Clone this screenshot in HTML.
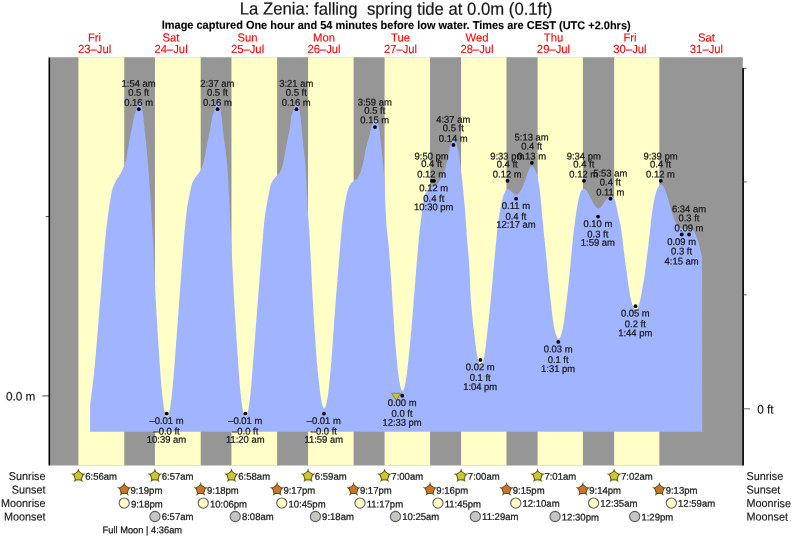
<!DOCTYPE html>
<html lang="en"><head><meta charset="utf-8"><title>La Zenia tide chart</title>
<style>
html,body{margin:0;padding:0;background:#fff;}
body{width:793px;height:539px;overflow:hidden;}
svg{display:block;font-family:"Liberation Sans",Arial,Helvetica,sans-serif;}
text{white-space:pre;}
</style></head><body>
<svg width="793" height="539" viewBox="0 0 793 539">
<rect width="793" height="539" fill="#fff"/>
<text transform="translate(396.10,14.70) rotate(0.05) scale(0.9595,1)" font-size="17.4" text-anchor="middle" fill="#181818" stroke="#181818" stroke-width="0.2">La Zenia: falling  spring tide at 0.0m (0.1ft)</text>
<text transform="translate(396.20,29.00) rotate(0.05) scale(0.9545,1)" font-size="11.5" text-anchor="middle" font-weight="bold" fill="#000" stroke="#000" stroke-width="0.1">Image captured One hour and 54 minutes before low water. Times are CEST (UTC +2.0hrs)</text>
<text transform="translate(94.54,41.45) rotate(0.05) scale(0.965,1)" font-size="11.7" text-anchor="middle" fill="#ff0000" stroke="#ff0000" stroke-width="0.1">Fri</text>
<text transform="translate(94.54,53.10) rotate(0.05) scale(0.965,1)" font-size="11.7" text-anchor="middle" fill="#ff0000" stroke="#ff0000" stroke-width="0.1">23–Jul</text>
<text transform="translate(171.03,41.45) rotate(0.05) scale(0.965,1)" font-size="11.7" text-anchor="middle" fill="#ff0000" stroke="#ff0000" stroke-width="0.1">Sat</text>
<text transform="translate(171.03,53.10) rotate(0.05) scale(0.965,1)" font-size="11.7" text-anchor="middle" fill="#ff0000" stroke="#ff0000" stroke-width="0.1">24–Jul</text>
<text transform="translate(247.52,41.45) rotate(0.05) scale(0.965,1)" font-size="11.7" text-anchor="middle" fill="#ff0000" stroke="#ff0000" stroke-width="0.1">Sun</text>
<text transform="translate(247.52,53.10) rotate(0.05) scale(0.965,1)" font-size="11.7" text-anchor="middle" fill="#ff0000" stroke="#ff0000" stroke-width="0.1">25–Jul</text>
<text transform="translate(324.01,41.45) rotate(0.05) scale(0.965,1)" font-size="11.7" text-anchor="middle" fill="#ff0000" stroke="#ff0000" stroke-width="0.1">Mon</text>
<text transform="translate(324.01,53.10) rotate(0.05) scale(0.965,1)" font-size="11.7" text-anchor="middle" fill="#ff0000" stroke="#ff0000" stroke-width="0.1">26–Jul</text>
<text transform="translate(400.50,41.45) rotate(0.05) scale(0.965,1)" font-size="11.7" text-anchor="middle" fill="#ff0000" stroke="#ff0000" stroke-width="0.1">Tue</text>
<text transform="translate(400.50,53.10) rotate(0.05) scale(0.965,1)" font-size="11.7" text-anchor="middle" fill="#ff0000" stroke="#ff0000" stroke-width="0.1">27–Jul</text>
<text transform="translate(477.00,41.45) rotate(0.05) scale(0.965,1)" font-size="11.7" text-anchor="middle" fill="#ff0000" stroke="#ff0000" stroke-width="0.1">Wed</text>
<text transform="translate(477.00,53.10) rotate(0.05) scale(0.965,1)" font-size="11.7" text-anchor="middle" fill="#ff0000" stroke="#ff0000" stroke-width="0.1">28–Jul</text>
<text transform="translate(553.48,41.45) rotate(0.05) scale(0.965,1)" font-size="11.7" text-anchor="middle" fill="#ff0000" stroke="#ff0000" stroke-width="0.1">Thu</text>
<text transform="translate(553.48,53.10) rotate(0.05) scale(0.965,1)" font-size="11.7" text-anchor="middle" fill="#ff0000" stroke="#ff0000" stroke-width="0.1">29–Jul</text>
<text transform="translate(629.97,41.45) rotate(0.05) scale(0.965,1)" font-size="11.7" text-anchor="middle" fill="#ff0000" stroke="#ff0000" stroke-width="0.1">Fri</text>
<text transform="translate(629.97,53.10) rotate(0.05) scale(0.965,1)" font-size="11.7" text-anchor="middle" fill="#ff0000" stroke="#ff0000" stroke-width="0.1">30–Jul</text>
<text transform="translate(706.46,41.45) rotate(0.05) scale(0.965,1)" font-size="11.7" text-anchor="middle" fill="#ff0000" stroke="#ff0000" stroke-width="0.1">Sat</text>
<text transform="translate(706.46,53.10) rotate(0.05) scale(0.965,1)" font-size="11.7" text-anchor="middle" fill="#ff0000" stroke="#ff0000" stroke-width="0.1">31–Jul</text>
<rect x="50.2" y="57.25" width="692.6" height="408.25" fill="#969696"/>
<rect x="78.40" y="57.25" width="45.84" height="408.25" fill="#ffffc8"/>
<rect x="154.94" y="57.25" width="45.73" height="408.25" fill="#ffffc8"/>
<rect x="231.48" y="57.25" width="45.63" height="408.25" fill="#ffffc8"/>
<rect x="308.03" y="57.25" width="45.58" height="408.25" fill="#ffffc8"/>
<rect x="384.57" y="57.25" width="45.47" height="408.25" fill="#ffffc8"/>
<rect x="461.06" y="57.25" width="45.42" height="408.25" fill="#ffffc8"/>
<rect x="537.60" y="57.25" width="45.31" height="408.25" fill="#ffffc8"/>
<rect x="614.15" y="57.25" width="45.20" height="408.25" fill="#ffffc8"/>
<path id="tide" d="M90.10 431.7L90.10 404.20L90.35 402.54L90.60 400.83L90.85 399.06L91.10 397.25L91.35 395.40L91.60 393.49L91.85 391.54L92.10 389.54L92.35 387.50L92.60 385.42L92.85 383.29L93.10 381.11L93.35 378.90L93.60 376.64L93.85 374.34L94.10 372.00L94.35 369.59L94.60 367.10L94.85 364.52L95.10 361.86L95.35 359.12L95.60 356.33L95.85 353.47L96.10 350.56L96.35 347.60L96.60 344.60L96.85 341.57L97.10 338.50L97.35 335.41L97.60 332.31L97.85 329.19L98.10 326.07L98.35 322.95L98.60 319.84L98.85 316.74L99.10 313.66L99.35 310.60L99.60 307.58L99.85 304.59L100.10 301.62L100.35 298.59L100.60 295.53L100.85 292.42L101.10 289.29L101.35 286.13L101.60 282.96L101.85 279.79L102.10 276.61L102.35 273.43L102.60 270.28L102.85 267.14L103.10 264.03L103.35 260.95L103.60 257.91L103.85 254.93L104.10 252.00L104.35 249.13L104.60 246.34L104.85 243.62L105.10 240.99L105.35 238.44L105.60 236.00L105.85 233.63L106.10 231.30L106.35 229.02L106.60 226.79L106.85 224.60L107.10 222.45L107.35 220.36L107.60 218.32L107.85 216.32L108.10 214.38L108.35 212.49L108.60 210.65L108.85 208.87L109.10 207.14L109.35 205.47L109.60 203.90L109.85 202.42L110.10 201.01L110.35 199.63L110.60 198.26L110.85 196.86L111.10 195.39L111.35 193.76L111.60 192.14L111.85 190.74L112.10 189.75L112.35 188.96L112.60 188.27L112.85 187.67L113.10 187.12L113.35 186.59L113.60 186.07L113.85 185.52L114.10 184.93L114.35 184.33L114.60 183.73L114.85 183.15L115.10 182.57L115.35 182.01L115.60 181.48L115.85 180.98L116.10 180.52L116.35 180.09L116.60 179.68L116.85 179.29L117.10 178.92L117.35 178.56L117.60 178.20L117.85 177.85L118.10 177.50L118.35 177.15L118.60 176.78L118.85 176.40L119.10 176.00L119.35 175.59L119.60 175.18L119.85 174.76L120.10 174.34L120.35 173.91L120.60 173.47L120.85 173.02L121.10 172.56L121.35 172.09L121.60 171.60L121.85 171.10L122.10 170.58L122.35 170.06L122.60 169.52L122.85 168.96L123.10 168.39L123.35 167.80L123.60 167.20L123.85 166.59L124.10 165.95L124.35 165.30L124.60 164.64L124.85 163.98L125.10 163.30L125.35 162.57L125.60 161.79L125.85 160.94L126.10 160.00L126.35 158.90L126.60 157.60L126.85 156.15L127.10 154.58L127.35 152.92L127.60 151.21L127.85 149.50L128.10 147.81L128.35 146.19L128.60 144.67L128.85 143.27L129.10 141.90L129.35 140.57L129.60 139.26L129.85 137.97L130.10 136.70L130.35 135.44L130.60 134.19L130.85 132.95L131.10 131.72L131.35 130.48L131.60 129.24L131.85 127.99L132.10 126.73L132.35 125.46L132.60 124.14L132.85 122.75L133.10 121.33L133.35 119.94L133.60 118.63L133.85 117.43L134.10 116.40L134.35 115.55L134.60 114.81L134.85 114.13L135.10 113.47L135.35 112.76L135.60 111.97L135.85 111.11L136.10 110.21L136.35 109.30L136.60 108.35L136.85 107.38L137.10 106.50L137.35 105.78L137.60 105.11L137.85 104.51L138.10 104.01L138.35 103.64L138.60 103.32L138.85 103.04L139.10 102.85L139.35 102.80L139.60 102.90L139.85 103.11L140.10 103.39L140.35 103.70L140.60 104.06L140.85 104.53L141.10 105.10L141.35 105.76L141.60 106.53L141.85 107.56L142.10 108.79L142.35 110.12L142.60 111.66L142.85 113.26L143.10 114.91L143.35 116.81L143.60 119.09L143.85 121.63L144.10 124.21L144.35 126.65L144.60 129.03L144.85 131.40L145.10 133.76L145.35 136.15L145.60 138.59L145.85 141.09L146.10 143.65L146.35 146.22L146.60 148.81L146.85 151.44L147.10 154.11L147.35 156.85L147.60 159.65L147.85 162.54L148.10 165.53L148.35 168.63L148.60 171.81L148.85 175.06L149.10 178.38L149.35 181.76L149.60 185.22L149.85 188.75L150.10 192.35L150.35 196.03L150.60 199.77L150.85 203.59L151.10 207.49L151.35 211.46L151.60 215.51L151.85 219.63L152.10 223.83L152.35 228.10L152.60 232.46L152.85 236.90L153.10 241.61L153.35 246.63L153.60 251.91L153.85 257.38L154.10 262.99L154.35 268.68L154.60 274.39L154.85 280.07L155.10 285.64L155.35 291.06L155.60 296.26L155.85 301.20L156.10 305.82L156.35 310.31L156.60 314.73L156.85 319.07L157.10 323.33L157.35 327.52L157.60 331.64L157.85 335.68L158.10 339.66L158.35 343.57L158.60 347.42L158.85 351.21L159.10 354.93L159.35 358.59L159.60 362.20L159.85 365.75L160.10 369.24L160.35 372.68L160.60 376.02L160.85 379.22L161.10 382.30L161.35 385.26L161.60 388.08L161.85 390.73L162.10 393.27L162.35 395.68L162.60 397.95L162.85 400.11L163.10 402.13L163.35 404.02L163.60 405.78L163.85 407.42L164.10 408.92L164.35 410.30L164.60 411.55L164.85 412.67L165.10 413.66L165.35 414.53L165.60 415.26L165.85 415.87L166.10 416.34L166.35 416.70L166.60 416.89L166.85 417.00L167.10 416.95L167.35 416.81L167.60 416.57L167.85 416.18L168.10 415.69L168.35 415.08L168.60 414.37L168.85 413.54L169.10 412.60L169.35 411.54L169.60 410.37L169.85 409.08L170.10 407.68L170.35 406.17L170.60 404.54L170.85 402.80L171.10 400.95L171.35 398.98L171.60 396.90L171.85 394.70L172.10 392.41L172.35 389.98L172.60 387.36L172.85 384.58L173.10 381.69L173.35 378.72L173.60 375.68L173.85 372.61L174.10 369.53L174.35 366.39L174.60 363.20L174.85 359.98L175.10 356.71L175.35 353.41L175.60 350.08L175.85 346.72L176.10 343.34L176.35 339.95L176.60 336.54L176.85 333.12L177.10 329.70L177.35 326.28L177.60 322.86L177.85 319.46L178.10 316.06L178.35 312.68L178.60 309.32L178.85 305.99L179.10 302.68L179.35 299.35L179.60 295.99L179.85 292.61L180.10 289.21L180.35 285.80L180.60 282.39L180.85 278.97L181.10 275.56L181.35 272.16L181.60 268.78L181.85 265.43L182.10 262.10L182.35 258.80L182.60 255.54L182.85 252.33L183.10 249.17L183.35 246.06L183.60 243.02L183.85 240.04L184.10 237.14L184.35 234.31L184.60 231.55L184.85 228.86L185.10 226.24L185.35 223.70L185.60 221.24L185.85 218.86L186.10 216.55L186.35 214.25L186.60 212.01L186.85 209.88L187.10 207.90L187.35 206.13L187.60 204.55L187.85 203.09L188.10 201.72L188.35 200.42L188.60 199.19L188.85 198.01L189.10 196.86L189.35 195.72L189.60 194.59L189.85 193.43L190.10 192.24L190.35 191.00L190.60 189.75L190.85 188.50L191.10 187.28L191.35 186.14L191.60 185.08L191.85 184.15L192.10 183.37L192.35 182.73L192.60 182.15L192.85 181.61L193.10 181.10L193.35 180.62L193.60 180.18L193.85 179.76L194.10 179.36L194.35 178.98L194.60 178.61L194.85 178.26L195.10 177.92L195.35 177.58L195.60 177.25L195.85 176.92L196.10 176.58L196.35 176.24L196.60 175.89L196.85 175.53L197.10 175.17L197.35 174.84L197.60 174.51L197.85 174.18L198.10 173.85L198.35 173.51L198.60 173.15L198.85 172.77L199.10 172.40L199.35 172.02L199.60 171.63L199.85 171.24L200.10 170.84L200.35 170.42L200.60 169.99L200.85 169.53L201.10 169.05L201.35 168.54L201.60 168.00L201.85 167.42L202.10 166.81L202.35 166.15L202.60 165.45L202.85 164.71L203.10 163.92L203.35 163.10L203.60 162.24L203.85 161.33L204.10 160.39L204.35 159.39L204.60 158.26L204.85 157.02L205.10 155.68L205.35 154.28L205.60 152.82L205.85 151.33L206.10 149.82L206.35 148.33L206.60 146.86L206.85 145.45L207.10 144.10L207.35 142.81L207.60 141.55L207.85 140.31L208.10 139.08L208.35 137.87L208.60 136.66L208.85 135.46L209.10 134.25L209.35 133.03L209.60 131.80L209.85 130.55L210.10 129.27L210.35 127.97L210.60 126.59L210.85 125.10L211.10 123.55L211.35 121.98L211.60 120.45L211.85 119.01L212.10 117.70L212.35 116.59L212.60 115.70L212.85 114.93L213.10 114.25L213.35 113.60L213.60 112.91L213.85 112.14L214.10 111.28L214.35 110.39L214.60 109.48L214.85 108.55L215.10 107.57L215.35 106.67L215.60 105.92L215.85 105.24L216.10 104.62L216.35 104.10L216.60 103.70L216.85 103.38L217.10 103.09L217.35 102.88L217.60 102.80L217.85 102.87L218.10 103.07L218.35 103.33L218.60 103.64L218.85 103.98L219.10 104.43L219.35 104.98L219.60 105.63L219.85 106.36L220.10 107.34L220.35 108.53L220.60 109.84L220.85 111.35L221.10 112.94L221.35 114.57L221.60 116.40L221.85 118.59L222.10 121.10L222.35 123.80L222.60 126.52L222.85 129.14L223.10 131.50L223.35 133.61L223.60 135.59L223.85 137.48L224.10 139.29L224.35 141.07L224.60 142.83L224.85 144.62L225.10 146.46L225.35 148.37L225.60 150.40L225.85 152.46L226.10 154.50L226.35 156.57L226.60 158.72L226.85 161.01L227.10 163.49L227.35 166.22L227.60 169.27L227.85 172.82L228.10 176.87L228.35 181.33L228.60 186.16L228.85 191.28L229.10 196.63L229.35 202.15L229.60 207.76L229.85 213.41L230.10 219.02L230.35 224.53L230.60 229.88L230.85 235.01L231.10 239.96L231.35 244.95L231.60 249.97L231.85 255.00L232.10 260.04L232.35 265.06L232.60 270.06L232.85 275.02L233.10 279.93L233.35 284.76L233.60 289.52L233.85 294.17L234.10 298.71L234.35 303.13L234.60 307.44L234.85 311.69L235.10 315.88L235.35 320.02L235.60 324.10L235.85 328.13L236.10 332.10L236.35 336.03L236.60 339.91L236.85 343.73L237.10 347.51L237.35 351.24L237.60 354.93L237.85 358.57L238.10 362.16L238.35 365.71L238.60 369.22L238.85 372.69L239.10 376.12L239.35 379.48L239.60 382.71L239.85 385.76L240.10 388.57L240.35 391.10L240.60 393.51L240.85 395.81L241.10 398.00L241.35 400.06L241.60 402.01L241.85 403.83L242.10 405.53L242.35 407.12L242.60 408.57L242.85 409.92L243.10 411.13L243.35 412.24L243.60 413.21L243.85 414.07L244.10 414.80L244.35 415.43L244.60 415.91L244.85 416.31L245.10 416.53L245.35 416.67L245.60 416.69L245.85 416.57L246.10 416.37L246.35 416.02L246.60 415.57L246.85 414.98L247.10 414.30L247.35 413.48L247.60 412.56L247.85 411.51L248.10 410.35L248.35 409.06L248.60 407.67L248.85 406.15L249.10 404.52L249.35 402.77L249.60 400.90L249.85 398.91L250.10 396.81L250.35 394.59L250.60 392.26L250.85 389.83L251.10 387.16L251.35 384.21L251.60 381.07L251.85 377.82L252.10 374.56L252.35 371.37L252.60 368.20L252.85 365.02L253.10 361.84L253.35 358.64L253.60 355.44L253.85 352.22L254.10 349.01L254.35 345.79L254.60 342.57L254.85 339.34L255.10 336.11L255.35 332.89L255.60 329.66L255.85 326.43L256.10 323.21L256.35 319.99L256.60 316.78L256.85 313.57L257.10 310.37L257.35 307.18L257.60 304.00L257.85 300.81L258.10 297.61L258.35 294.40L258.60 291.18L258.85 287.95L259.10 284.72L259.35 281.49L259.60 278.26L259.85 275.03L260.10 271.82L260.35 268.61L260.60 265.42L260.85 262.24L261.10 259.08L261.35 255.95L261.60 252.84L261.85 249.75L262.10 246.70L262.35 243.68L262.60 240.69L262.85 237.75L263.10 234.83L263.35 231.86L263.60 228.88L263.85 225.97L264.10 223.21L264.35 220.66L264.60 218.40L264.85 216.40L265.10 214.55L265.35 212.83L265.60 211.20L265.85 209.65L266.10 208.15L266.35 206.68L266.60 205.21L266.85 203.78L267.10 202.38L267.35 201.02L267.60 199.69L267.85 198.39L268.10 197.12L268.35 195.87L268.60 194.64L268.85 193.44L269.10 192.23L269.35 190.98L269.60 189.72L269.85 188.50L270.10 187.33L270.35 186.26L270.60 185.32L270.85 184.53L271.10 183.89L271.35 183.30L271.60 182.74L271.85 182.22L272.10 181.73L272.35 181.28L272.60 180.85L272.85 180.44L273.10 180.05L273.35 179.68L273.60 179.32L273.85 178.98L274.10 178.64L274.35 178.30L274.60 177.97L274.85 177.65L275.10 177.36L275.35 177.08L275.60 176.81L275.85 176.55L276.10 176.29L276.35 176.04L276.60 175.78L276.85 175.51L277.10 175.23L277.35 174.94L277.60 174.65L277.85 174.37L278.10 174.09L278.35 173.82L278.60 173.54L278.85 173.27L279.10 172.98L279.35 172.68L279.60 172.37L279.85 172.04L280.10 171.69L280.35 171.31L280.60 170.91L280.85 170.47L281.10 170.00L281.35 169.45L281.60 168.80L281.85 168.05L282.10 167.22L282.35 166.33L282.60 165.39L282.85 164.37L283.10 163.17L283.35 161.85L283.60 160.52L283.85 159.23L284.10 157.94L284.35 156.65L284.60 155.34L284.85 154.02L285.10 152.69L285.35 151.35L285.60 150.00L285.85 148.62L286.10 147.21L286.35 145.79L286.60 144.37L286.85 142.97L287.10 141.60L287.35 140.30L287.60 139.08L287.85 137.92L288.10 136.79L288.35 135.68L288.60 134.56L288.85 133.41L289.10 132.22L289.35 130.97L289.60 129.62L289.85 128.16L290.10 126.58L290.35 124.82L290.60 122.28L290.85 119.38L291.10 117.00L291.35 115.75L291.60 114.89L291.85 114.22L292.10 113.62L292.35 113.02L292.60 112.30L292.85 111.46L293.10 110.57L293.35 109.66L293.60 108.74L293.85 107.77L294.10 106.84L294.35 106.06L294.60 105.37L294.85 104.74L295.10 104.19L295.35 103.77L295.60 103.44L295.85 103.14L296.10 102.91L296.35 102.80L296.60 102.85L296.85 103.02L297.10 103.28L297.35 103.58L297.60 103.90L297.85 104.33L298.10 104.86L298.35 105.49L298.60 106.20L298.85 107.12L299.10 108.28L299.35 109.56L299.60 111.03L299.85 112.62L300.10 114.29L300.35 116.04L300.60 117.85L300.85 119.76L301.10 121.87L301.35 124.20L301.60 126.68L301.85 129.28L302.10 131.96L302.35 134.68L302.60 137.39L302.85 140.05L303.10 142.61L303.35 145.03L303.60 147.34L303.85 149.60L304.10 151.85L304.35 154.14L304.60 156.53L304.85 159.06L305.10 161.78L305.35 164.74L305.60 168.00L305.85 171.89L306.10 176.56L306.35 181.78L306.60 187.29L306.85 192.85L307.10 198.22L307.35 203.15L307.60 207.44L307.85 211.30L308.10 214.89L308.35 218.30L308.60 221.62L308.85 224.96L309.10 228.40L309.35 232.05L309.60 236.00L309.85 240.31L310.10 244.94L310.35 249.83L310.60 254.94L310.85 260.20L311.10 265.57L311.35 270.99L311.60 276.39L311.85 281.74L312.10 286.97L312.35 292.03L312.60 296.87L312.85 301.42L313.10 305.67L313.35 309.82L313.60 313.92L313.85 317.98L314.10 321.97L314.35 325.91L314.60 329.79L314.85 333.60L315.10 337.33L315.35 340.99L315.60 344.58L315.85 348.07L316.10 351.48L316.35 354.80L316.60 358.02L316.85 361.14L317.10 364.15L317.35 367.06L317.60 369.85L317.85 372.52L318.10 375.02L318.35 377.35L318.60 379.55L318.85 381.67L319.10 383.76L319.35 385.85L319.60 388.00L319.85 390.17L320.10 392.22L320.35 394.15L320.60 395.95L320.85 397.63L321.10 399.18L321.35 400.62L321.60 401.93L321.85 403.12L322.10 404.18L322.35 405.13L322.60 405.94L322.85 406.65L323.10 407.22L323.35 407.68L323.60 408.00L323.85 408.22L324.10 408.29L324.35 408.23L324.60 408.12L324.85 407.84L325.10 407.46L325.35 406.95L325.60 406.33L325.85 405.58L326.10 404.73L326.35 403.75L326.60 402.66L326.85 401.45L327.10 400.12L327.35 398.67L327.60 397.11L327.85 395.43L328.10 393.64L328.35 391.74L328.60 389.67L328.85 387.49L329.10 385.21L329.35 382.85L329.60 380.40L329.85 377.87L330.10 375.25L330.35 372.55L330.60 369.76L330.85 366.85L331.10 363.83L331.35 360.71L331.60 357.51L331.85 354.23L332.10 350.88L332.35 347.48L332.60 344.03L332.85 340.54L333.10 337.03L333.35 333.50L333.60 329.97L333.85 326.44L334.10 322.93L334.35 319.44L334.60 315.98L334.85 312.58L335.10 309.22L335.35 305.94L335.60 302.72L335.85 299.53L336.10 296.36L336.35 293.20L336.60 290.05L336.85 286.92L337.10 283.80L337.35 280.69L337.60 277.59L337.85 274.51L338.10 271.44L338.35 268.37L338.60 265.32L338.85 262.28L339.10 259.25L339.35 256.22L339.60 253.21L339.85 250.20L340.10 247.20L340.35 244.19L340.60 241.13L340.85 238.07L341.10 235.07L341.35 232.17L341.60 229.44L341.85 226.89L342.10 224.45L342.35 222.12L342.60 219.90L342.85 217.79L343.10 215.80L343.35 213.91L343.60 212.09L343.85 210.34L344.10 208.66L344.35 207.05L344.60 205.51L344.85 204.04L345.10 202.65L345.35 201.28L345.60 199.94L345.85 198.64L346.10 197.37L346.35 196.15L346.60 194.98L346.85 193.87L347.10 192.82L347.35 191.84L347.60 190.94L347.85 190.11L348.10 189.32L348.35 188.56L348.60 187.85L348.85 187.19L349.10 186.59L349.35 186.06L349.60 185.60L349.85 185.19L350.10 184.81L350.35 184.46L350.60 184.13L350.85 183.82L351.10 183.53L351.35 183.25L351.60 182.98L351.85 182.73L352.10 182.48L352.35 182.24L352.60 181.99L352.85 181.75L353.10 181.52L353.35 181.30L353.60 181.10L353.85 180.91L354.10 180.73L354.35 180.55L354.60 180.38L354.85 180.22L355.10 180.05L355.35 179.88L355.60 179.70L355.85 179.52L356.10 179.33L356.35 179.13L356.60 178.92L356.85 178.69L357.10 178.44L357.35 178.17L357.60 177.88L357.85 177.56L358.10 177.20L358.35 176.80L358.60 176.38L358.85 175.92L359.10 175.44L359.35 174.92L359.60 174.39L359.85 173.82L360.10 173.24L360.35 172.63L360.60 171.97L360.85 171.25L361.10 170.49L361.35 169.68L361.60 168.83L361.85 167.94L362.10 167.01L362.35 166.05L362.60 165.06L362.85 164.04L363.10 162.99L363.35 161.93L363.60 160.84L363.85 159.71L364.10 158.44L364.35 157.06L364.60 155.61L364.85 154.11L365.10 152.62L365.35 151.16L365.60 149.77L365.85 148.50L366.10 147.36L366.35 146.31L366.60 145.31L366.85 144.35L367.10 143.44L367.35 142.55L367.60 141.69L367.85 140.84L368.10 139.99L368.35 139.14L368.60 138.27L368.85 137.38L369.10 136.46L369.35 135.50L369.60 134.49L369.85 133.44L370.10 132.36L370.35 131.27L370.60 130.20L370.85 129.17L371.10 128.18L371.35 127.27L371.60 126.43L371.85 125.60L372.10 124.81L372.35 124.06L372.60 123.37L372.85 122.74L373.10 122.18L373.35 121.66L373.60 121.17L373.85 120.75L374.10 120.41L374.35 120.15L374.60 119.91L374.85 119.72L375.10 119.61L375.35 119.62L375.60 119.72L375.85 119.90L376.10 120.11L376.35 120.35L376.60 120.66L376.85 121.07L377.10 121.54L377.35 122.07L377.60 122.63L377.85 123.22L378.10 123.88L378.35 124.62L378.60 125.47L378.85 126.44L379.10 127.61L379.35 129.26L379.60 131.29L379.85 133.50L380.10 135.70L380.35 137.88L380.60 140.17L380.85 142.53L381.10 144.93L381.35 147.32L381.60 149.70L381.85 152.06L382.10 154.45L382.35 156.88L382.60 159.38L382.85 161.90L383.10 164.28L383.35 166.63L383.60 169.12L383.85 171.87L384.10 175.05L384.35 178.85L384.60 184.48L384.85 191.46L385.10 198.47L385.35 204.22L385.60 209.16L385.85 213.84L386.10 218.21L386.35 222.22L386.60 225.83L386.85 228.99L387.10 231.71L387.35 234.09L387.60 236.24L387.85 238.29L388.10 240.34L388.35 242.52L388.60 244.94L388.85 247.67L389.10 250.60L389.35 253.69L389.60 256.93L389.85 260.31L390.10 263.82L390.35 267.44L390.60 271.16L390.85 274.97L391.10 278.85L391.35 282.79L391.60 286.78L391.85 290.79L392.10 294.83L392.35 298.88L392.60 302.91L392.85 306.93L393.10 310.92L393.35 314.85L393.60 318.73L393.85 322.54L394.10 326.26L394.35 329.87L394.60 333.38L394.85 336.76L395.10 340.00L395.35 343.13L395.60 346.18L395.85 349.15L396.10 352.06L396.35 354.89L396.60 357.66L396.85 360.37L397.10 363.01L397.35 365.51L397.60 367.89L397.85 370.16L398.10 372.31L398.35 374.34L398.60 376.25L398.85 378.05L399.10 379.72L399.35 381.28L399.60 382.71L399.85 384.03L400.10 385.23L400.35 386.31L400.60 387.27L400.85 388.12L401.10 388.83L401.35 389.45L401.60 389.93L401.85 390.31L402.10 390.53L402.35 390.67L402.60 390.69L402.85 390.57L403.10 390.39L403.35 390.05L403.60 389.62L403.85 389.06L404.10 388.40L404.35 387.62L404.60 386.73L404.85 385.73L405.10 384.62L405.35 383.39L405.60 382.05L405.85 380.60L406.10 379.04L406.35 377.36L406.60 375.57L406.85 373.67L407.10 371.66L407.35 369.53L407.60 367.29L407.85 364.92L408.10 362.52L408.35 360.14L408.60 357.77L408.85 355.41L409.10 353.02L409.35 350.62L409.60 348.18L409.85 345.69L410.10 343.14L410.35 340.53L410.60 337.85L410.85 335.10L411.10 332.29L411.35 329.43L411.60 326.52L411.85 323.57L412.10 320.57L412.35 317.54L412.60 314.48L412.85 311.39L413.10 308.28L413.35 305.15L413.60 302.00L413.85 298.85L414.10 295.69L414.35 292.53L414.60 289.38L414.85 286.23L415.10 283.10L415.35 279.98L415.60 276.89L415.85 273.82L416.10 270.78L416.35 267.78L416.60 264.81L416.85 261.80L417.10 258.74L417.35 255.68L417.60 252.62L417.85 249.59L418.10 246.62L418.35 243.73L418.60 240.95L418.85 238.30L419.10 235.80L419.35 233.44L419.60 231.16L419.85 228.97L420.10 226.85L420.35 224.79L420.60 222.78L420.85 220.81L421.10 218.87L421.35 216.96L421.60 215.05L421.85 213.15L422.10 211.23L422.35 209.30L422.60 207.42L422.85 205.66L423.10 204.09L423.35 202.63L423.60 201.28L423.85 200.06L424.10 198.99L424.35 198.02L424.60 197.13L424.85 196.31L425.10 195.54L425.35 194.84L425.60 194.17L425.85 193.53L426.10 192.91L426.35 192.32L426.60 191.77L426.85 191.26L427.10 190.80L427.35 190.38L427.60 190.00L427.85 189.63L428.10 189.29L428.35 188.96L428.60 188.65L428.85 188.36L429.10 188.09L429.35 187.84L429.60 187.61L429.85 187.41L430.10 187.23L430.35 187.07L430.60 186.92L430.85 186.79L431.10 186.66L431.35 186.54L431.60 186.43L431.85 186.32L432.10 186.22L432.35 186.11L432.60 186.01L432.85 185.90L433.10 185.79L433.35 185.67L433.60 185.55L433.85 185.43L434.10 185.32L434.35 185.21L434.60 185.10L434.85 184.99L435.10 184.88L435.35 184.77L435.60 184.65L435.85 184.53L436.10 184.41L436.35 184.27L436.60 184.13L436.85 183.98L437.10 183.81L437.35 183.64L437.60 183.44L437.85 183.21L438.10 182.95L438.35 182.66L438.60 182.36L438.85 182.03L439.10 181.68L439.35 181.31L439.60 180.94L439.85 180.55L440.10 180.16L440.35 179.76L440.60 179.34L440.85 178.90L441.10 178.45L441.35 177.98L441.60 177.48L441.85 176.97L442.10 176.45L442.35 175.90L442.60 175.34L442.85 174.76L443.10 174.16L443.35 173.54L443.60 172.91L443.85 172.26L444.10 171.60L444.35 170.91L444.60 170.18L444.85 169.41L445.10 168.60L445.35 167.77L445.60 166.90L445.85 166.00L446.10 165.07L446.35 164.11L446.60 163.12L446.85 162.12L447.10 161.08L447.35 159.94L447.60 158.71L447.85 157.41L448.10 156.08L448.35 154.74L448.60 153.41L448.85 152.12L449.10 150.91L449.35 149.78L449.60 148.70L449.85 147.65L450.10 146.66L450.35 145.73L450.60 144.90L450.85 144.14L451.10 143.42L451.35 142.76L451.60 142.19L451.85 141.71L452.10 141.30L452.35 140.92L452.60 140.60L452.85 140.33L453.10 140.12L453.35 139.93L453.60 139.78L453.85 139.70L454.10 139.73L454.35 139.83L454.60 139.98L454.85 140.16L455.10 140.38L455.35 140.68L455.60 141.06L455.85 141.51L456.10 142.02L456.35 142.68L456.60 143.49L456.85 144.36L457.10 145.26L457.35 146.20L457.60 147.21L457.85 148.30L458.10 149.49L458.35 150.81L458.60 152.28L458.85 153.90L459.10 155.63L459.35 157.43L459.60 159.27L459.85 161.13L460.10 162.99L460.35 164.88L460.60 166.82L460.85 168.80L461.10 170.83L461.35 172.91L461.60 175.05L461.85 177.24L462.10 179.48L462.35 181.81L462.60 184.27L462.85 186.84L463.10 189.47L463.35 192.15L463.60 194.83L463.85 197.48L464.10 200.04L464.35 202.54L464.60 205.06L464.85 207.71L465.10 210.60L465.35 213.87L465.60 217.50L465.85 221.36L466.10 225.32L466.35 229.24L466.60 233.00L466.85 236.46L467.10 239.62L467.35 242.54L467.60 245.32L467.85 248.02L468.10 250.72L468.35 253.49L468.60 256.41L468.85 259.55L469.10 262.99L469.35 266.81L469.60 271.60L469.85 277.25L470.10 283.30L470.35 289.29L470.60 294.76L470.85 299.26L471.10 302.77L471.35 306.01L471.60 309.04L471.85 311.87L472.10 314.54L472.35 317.06L472.60 319.45L472.85 321.74L473.10 323.95L473.35 326.10L473.60 328.22L473.85 330.33L474.10 332.44L474.35 334.58L474.60 336.78L474.85 339.05L475.10 341.24L475.35 343.34L475.60 345.34L475.85 347.25L476.10 349.07L476.35 350.79L476.60 352.41L476.85 353.94L477.10 355.38L477.35 356.71L477.60 357.96L477.85 359.11L478.10 360.16L478.35 361.12L478.60 361.99L478.85 362.75L479.10 363.43L479.35 364.01L479.60 364.50L479.85 364.88L480.10 365.19L480.35 365.37L480.60 365.48L480.85 365.49L481.10 365.39L481.35 365.23L481.60 364.94L481.85 364.56L482.10 364.08L482.35 363.51L482.60 362.83L482.85 362.06L483.10 361.19L483.35 360.23L483.60 359.16L483.85 358.01L484.10 356.75L484.35 355.39L484.60 353.94L484.85 352.39L485.10 350.74L485.35 349.00L485.60 347.15L485.85 345.21L486.10 343.17L486.35 341.04L486.60 338.79L486.85 336.51L487.10 334.22L487.35 331.93L487.60 329.64L487.85 327.34L488.10 325.04L488.35 322.72L488.60 320.39L488.85 318.05L489.10 315.69L489.35 313.31L489.60 310.90L489.85 308.47L490.10 306.02L490.35 303.53L490.60 301.02L490.85 298.45L491.10 295.78L491.35 293.04L491.60 290.30L491.85 287.59L492.10 284.95L492.35 282.30L492.60 279.62L492.85 276.91L493.10 274.18L493.35 271.43L493.60 268.67L493.85 265.91L494.10 263.14L494.35 260.38L494.60 257.63L494.85 254.89L495.10 252.18L495.35 249.49L495.60 246.83L495.85 244.21L496.10 241.63L496.35 239.11L496.60 236.63L496.85 234.22L497.10 231.86L497.35 229.58L497.60 227.38L497.85 225.25L498.10 223.21L498.35 221.26L498.60 219.41L498.85 217.66L499.10 216.02L499.35 214.49L499.60 213.04L499.85 211.66L500.10 210.32L500.35 209.02L500.60 207.73L500.85 206.44L501.10 205.14L501.35 203.86L501.60 202.62L501.85 201.46L502.10 200.40L502.35 199.42L502.60 198.48L502.85 197.59L503.10 196.74L503.35 195.94L503.60 195.19L503.85 194.49L504.10 193.85L504.35 193.23L504.60 192.64L504.85 192.09L505.10 191.58L505.35 191.13L505.60 190.74L505.85 190.41L506.10 190.11L506.35 189.85L506.60 189.63L506.85 189.47L507.10 189.33L507.35 189.21L507.60 189.12L507.85 189.10L508.10 189.13L508.35 189.20L508.60 189.28L508.85 189.38L509.10 189.50L509.35 189.67L509.60 189.87L509.85 190.09L510.10 190.31L510.35 190.53L510.60 190.75L510.85 190.99L511.10 191.23L511.35 191.47L511.60 191.71L511.85 191.95L512.10 192.18L512.35 192.42L512.60 192.67L512.85 192.91L513.10 193.14L513.35 193.36L513.60 193.56L513.85 193.73L514.10 193.91L514.35 194.10L514.60 194.28L514.85 194.45L515.10 194.61L515.35 194.74L515.60 194.84L515.85 194.89L516.10 194.90L516.35 194.85L516.60 194.77L516.85 194.65L517.10 194.51L517.35 194.34L517.60 194.16L517.85 193.97L518.10 193.78L518.35 193.58L518.60 193.34L518.85 193.08L519.10 192.78L519.35 192.45L519.60 192.11L519.85 191.74L520.10 191.37L520.35 190.99L520.60 190.60L520.85 190.20L521.10 189.78L521.35 189.33L521.60 188.86L521.85 188.38L522.10 187.87L522.35 187.35L522.60 186.82L522.85 186.27L523.10 185.68L523.35 185.07L523.60 184.44L523.85 183.79L524.10 183.12L524.35 182.45L524.60 181.77L524.85 181.09L525.10 180.38L525.35 179.66L525.60 178.93L525.85 178.19L526.10 177.46L526.35 176.74L526.60 176.03L526.85 175.32L527.10 174.61L527.35 173.91L527.60 173.23L527.85 172.57L528.10 171.91L528.35 171.25L528.60 170.61L528.85 169.99L529.10 169.42L529.35 168.90L529.60 168.40L529.85 167.92L530.10 167.48L530.35 167.10L530.60 166.80L530.85 166.55L531.10 166.30L531.35 166.08L531.60 165.92L531.85 165.82L532.10 165.81L532.35 165.89L532.60 166.05L532.85 166.25L533.10 166.49L533.35 166.75L533.60 167.03L533.85 167.40L534.10 167.84L534.35 168.31L534.60 168.80L534.85 169.31L535.10 169.86L535.35 170.45L535.60 171.07L535.85 171.73L536.10 172.42L536.35 173.13L536.60 173.87L536.85 174.65L537.10 175.47L537.35 176.35L537.60 177.30L537.85 178.33L538.10 179.47L538.35 180.77L538.60 182.23L538.85 183.82L539.10 185.53L539.35 187.35L539.60 189.24L539.85 191.20L540.10 193.27L540.35 195.54L540.60 197.98L540.85 200.53L541.10 203.15L541.35 205.83L541.60 208.69L541.85 211.66L542.10 214.61L542.35 217.46L542.60 220.14L542.85 222.76L543.10 225.33L543.35 227.86L543.60 230.35L543.85 232.81L544.10 235.24L544.35 237.66L544.60 240.07L544.85 242.49L545.10 244.90L545.35 247.33L545.60 249.79L545.85 252.27L546.10 254.78L546.35 257.34L546.60 259.95L546.85 262.59L547.10 265.25L547.35 267.92L547.60 270.59L547.85 273.24L548.10 275.88L548.35 278.47L548.60 281.01L548.85 283.49L549.10 285.95L549.35 288.39L549.60 290.82L549.85 293.22L550.10 295.61L550.35 297.97L550.60 300.30L550.85 302.59L551.10 304.85L551.35 307.06L551.60 309.23L551.85 311.36L552.10 313.42L552.35 315.36L552.60 317.22L552.85 319.01L553.10 320.72L553.35 322.36L553.60 323.91L553.85 325.39L554.10 326.80L554.35 328.12L554.60 329.37L554.85 330.54L555.10 331.63L555.35 332.65L555.60 333.58L555.85 334.45L556.10 335.23L556.35 335.94L556.60 336.56L556.85 337.11L557.10 337.58L557.35 337.98L557.60 338.30L557.85 338.55L558.10 338.69L558.35 338.78L558.60 338.79L558.85 338.72L559.10 338.60L559.35 338.37L559.60 338.09L559.85 337.72L560.10 337.29L560.35 336.78L560.60 336.20L560.85 335.54L561.10 334.81L561.35 334.01L561.60 333.13L561.85 332.18L562.10 331.15L562.35 330.05L562.60 328.88L562.85 327.64L563.10 326.32L563.35 324.92L563.60 323.45L563.85 321.91L564.10 320.30L564.35 318.61L564.60 316.85L564.85 315.02L565.10 313.09L565.35 311.12L565.60 309.11L565.85 307.07L566.10 305.00L566.35 302.91L566.60 300.78L566.85 298.64L567.10 296.46L567.35 294.27L567.60 292.05L567.85 289.82L568.10 287.56L568.35 285.29L568.60 283.00L568.85 280.66L569.10 278.26L569.35 275.79L569.60 273.26L569.85 270.68L570.10 268.07L570.35 265.43L570.60 262.77L570.85 260.09L571.10 257.41L571.35 254.73L571.60 252.07L571.85 249.43L572.10 246.81L572.35 244.24L572.60 241.71L572.85 239.24L573.10 236.83L573.35 234.49L573.60 232.23L573.85 230.07L574.10 228.00L574.35 226.05L574.60 224.21L574.85 222.45L575.10 220.74L575.35 219.03L575.60 217.30L575.85 215.55L576.10 213.81L576.35 212.08L576.60 210.41L576.85 208.81L577.10 207.30L577.35 205.82L577.60 204.37L577.85 202.95L578.10 201.60L578.35 200.31L578.60 199.11L578.85 198.01L579.10 196.98L579.35 195.98L579.60 195.02L579.85 194.10L580.10 193.27L580.35 192.53L580.60 191.90L580.85 191.41L581.10 190.99L581.35 190.61L581.60 190.27L581.85 189.97L582.10 189.72L582.35 189.50L582.60 189.34L582.85 189.18L583.10 189.03L583.35 188.90L583.60 188.79L583.85 188.72L584.10 188.70L584.35 188.73L584.60 188.83L584.85 188.96L585.10 189.13L585.35 189.33L585.60 189.52L585.85 189.72L586.10 189.97L586.35 190.25L586.60 190.56L586.85 190.89L587.10 191.25L587.35 191.62L587.60 192.00L587.85 192.40L588.10 192.84L588.35 193.31L588.60 193.80L588.85 194.30L589.10 194.80L589.35 195.30L589.60 195.82L589.85 196.35L590.10 196.88L590.35 197.42L590.60 197.96L590.85 198.49L591.10 199.00L591.35 199.51L591.60 200.02L591.85 200.52L592.10 201.02L592.35 201.50L592.60 201.97L592.85 202.41L593.10 202.84L593.35 203.24L593.60 203.64L593.85 204.02L594.10 204.39L594.35 204.75L594.60 205.10L594.85 205.46L595.10 205.82L595.35 206.18L595.60 206.52L595.85 206.83L596.10 207.11L596.35 207.34L596.60 207.56L596.85 207.78L597.10 207.99L597.35 208.17L597.60 208.33L597.85 208.44L598.10 208.49L598.35 208.49L598.60 208.45L598.85 208.38L599.10 208.29L599.35 208.18L599.60 208.04L599.85 207.90L600.10 207.76L600.35 207.60L600.60 207.40L600.85 207.16L601.10 206.89L601.35 206.60L601.60 206.29L601.85 205.98L602.10 205.68L602.35 205.34L602.60 204.99L602.85 204.63L603.10 204.25L603.35 203.87L603.60 203.50L603.85 203.13L604.10 202.75L604.35 202.37L604.60 201.98L604.85 201.61L605.10 201.24L605.35 200.89L605.60 200.53L605.85 200.18L606.10 199.83L606.35 199.49L606.60 199.17L606.85 198.87L607.10 198.59L607.35 198.31L607.60 198.05L607.85 197.79L608.10 197.55L608.35 197.33L608.60 197.13L608.85 196.97L609.10 196.81L609.35 196.66L609.60 196.52L609.85 196.39L610.10 196.29L610.35 196.22L610.60 196.20L610.85 196.22L611.10 196.26L611.35 196.34L611.60 196.43L611.85 196.53L612.10 196.65L612.35 196.79L612.60 196.99L612.85 197.25L613.10 197.55L613.35 197.87L613.60 198.20L613.85 198.54L614.10 198.89L614.35 199.29L614.60 199.74L614.85 200.25L615.10 200.86L615.35 201.68L615.60 202.68L615.85 203.82L616.10 205.03L616.35 206.25L616.60 207.45L616.85 208.57L617.10 209.71L617.35 210.86L617.60 212.02L617.85 213.18L618.10 214.36L618.35 215.53L618.60 216.70L618.85 217.84L619.10 218.95L619.35 220.03L619.60 221.11L619.85 222.21L620.10 223.35L620.35 224.53L620.60 225.79L620.85 227.14L621.10 228.60L621.35 230.23L621.60 232.00L621.85 233.91L622.10 235.92L622.35 238.01L622.60 240.15L622.85 242.32L623.10 244.50L623.35 246.66L623.60 248.77L623.85 250.82L624.10 252.78L624.35 254.71L624.60 256.65L624.85 258.57L625.10 260.49L625.35 262.40L625.60 264.30L625.85 266.19L626.10 268.07L626.35 269.94L626.60 271.80L626.85 273.65L627.10 275.49L627.35 277.31L627.60 279.12L627.85 280.92L628.10 282.69L628.35 284.44L628.60 286.14L628.85 287.80L629.10 289.41L629.35 290.95L629.60 292.43L629.85 293.85L630.10 295.22L630.35 296.52L630.60 297.76L630.85 298.94L631.10 300.06L631.35 301.12L631.60 302.13L631.85 303.07L632.10 303.95L632.35 304.77L632.60 305.54L632.85 306.24L633.10 306.88L633.35 307.46L633.60 307.98L633.85 308.44L634.10 308.85L634.35 309.19L634.60 309.47L634.85 309.69L635.10 309.86L635.35 309.95L635.60 310.00L635.85 309.98L636.10 309.90L636.35 309.77L636.60 309.56L636.85 309.31L637.10 308.99L637.35 308.61L637.60 308.17L637.85 307.68L638.10 307.12L638.35 306.50L638.60 305.82L638.85 305.09L639.10 304.29L639.35 303.43L639.60 302.51L639.85 301.53L640.10 300.49L640.35 299.40L640.60 298.24L640.85 297.02L641.10 295.74L641.35 294.41L641.60 293.01L641.85 291.55L642.10 290.03L642.35 288.41L642.60 286.78L642.85 285.38L643.10 284.12L643.35 282.88L643.60 281.50L643.85 279.98L644.10 278.39L644.35 276.73L644.60 275.02L644.85 273.25L645.10 271.44L645.35 269.58L645.60 267.68L645.85 265.74L646.10 263.78L646.35 261.79L646.60 259.78L646.85 257.75L647.10 255.72L647.35 253.68L647.60 251.63L647.85 249.59L648.10 247.52L648.35 245.41L648.60 243.26L648.85 241.07L649.10 238.86L649.35 236.63L649.60 234.37L649.85 232.10L650.10 229.83L650.35 227.54L650.60 225.14L650.85 222.66L651.10 220.22L651.35 217.94L651.60 215.92L651.85 214.02L652.10 212.22L652.35 210.49L652.60 208.84L652.85 207.28L653.10 205.79L653.35 204.37L653.60 203.02L653.85 201.72L654.10 200.48L654.35 199.28L654.60 198.15L654.85 197.07L655.10 196.06L655.35 195.11L655.60 194.19L655.85 193.27L656.10 192.37L656.35 191.51L656.60 190.68L656.85 189.92L657.10 189.21L657.35 188.59L657.60 188.06L657.85 187.62L658.10 187.22L658.35 186.83L658.60 186.45L658.85 186.08L659.10 185.74L659.35 185.42L659.60 185.13L659.85 184.88L660.10 184.66L660.35 184.49L660.60 184.38L660.85 184.31L661.10 184.31L661.35 184.37L661.60 184.49L661.85 184.67L662.10 184.90L662.35 185.17L662.60 185.47L662.85 185.81L663.10 186.17L663.35 186.54L663.60 186.93L663.85 187.31L664.10 187.70L664.35 188.11L664.60 188.58L664.85 189.11L665.10 189.67L665.35 190.28L665.60 190.92L665.85 191.59L666.10 192.29L666.35 192.99L666.60 193.71L666.85 194.44L667.10 195.24L667.35 196.08L667.60 196.96L667.85 197.87L668.10 198.81L668.35 199.75L668.60 200.70L668.85 201.63L669.10 202.54L669.35 203.43L669.60 204.33L669.85 205.24L670.10 206.15L670.35 207.06L670.60 207.96L670.85 208.85L671.10 209.72L671.35 210.56L671.60 211.38L671.85 212.17L672.10 212.97L672.35 213.76L672.60 214.56L672.85 215.34L673.10 216.11L673.35 216.87L673.60 217.60L673.85 218.31L674.10 218.98L674.35 219.63L674.60 220.23L674.85 220.79L675.10 221.30L675.35 221.78L675.60 222.26L675.85 222.72L676.10 223.17L676.35 223.61L676.60 224.04L676.85 224.45L677.10 224.84L677.35 225.21L677.60 225.55L677.85 225.88L678.10 226.17L678.35 226.44L678.60 226.68L678.85 226.89L679.10 227.07L679.35 227.24L679.60 227.40L679.85 227.56L680.10 227.71L680.35 227.85L680.60 227.98L680.85 228.11L681.10 228.23L681.35 228.34L681.60 228.44L681.85 228.53L682.10 228.61L682.35 228.68L682.60 228.73L682.85 228.78L683.10 228.81L683.35 228.84L683.60 228.86L683.85 228.89L684.10 228.91L684.35 228.92L684.60 228.94L684.85 228.95L685.10 228.97L685.35 228.98L685.60 228.99L685.85 229.00L686.10 229.01L686.35 229.02L686.60 229.03L686.85 229.04L687.10 229.06L687.35 229.07L687.60 229.08L687.85 229.10L688.10 229.12L688.35 229.14L688.60 229.16L688.85 229.18L689.10 229.21L689.35 229.24L689.60 229.28L689.85 229.31L690.10 229.36L690.35 229.40L690.60 229.45L690.85 229.51L691.10 229.57L691.35 229.64L691.60 229.71L691.85 229.79L692.10 229.88L692.35 229.97L692.60 230.07L692.85 230.18L693.10 230.30L693.35 230.43L693.60 230.63L693.85 230.94L694.10 231.33L694.35 231.80L694.60 232.32L694.85 232.90L695.10 233.51L695.35 234.14L695.60 234.78L695.85 235.41L696.10 236.03L696.35 236.61L696.60 237.19L696.85 237.76L697.10 238.35L697.35 238.96L697.60 239.59L697.85 240.25L698.10 240.95L698.35 241.70L698.60 242.50L698.85 243.41L699.10 244.46L699.35 245.59L699.60 246.78L699.85 247.97L700.10 249.13L700.35 250.21L700.60 251.25L700.85 252.28L701.10 253.30L701.35 254.31L701.60 255.30L701.85 256.28L702.10 257.24L702.30 431.7Z" fill="#a0b4ff"/>
<g id="labels">
<text transform="translate(138.65,105.84) rotate(0.05) scale(0.974,1)" font-size="9.7" text-anchor="middle" fill="#181818" stroke="#181818" stroke-width="0.24">0.16 m</text>
<text transform="translate(138.65,95.84) rotate(0.05) scale(0.974,1)" font-size="9.7" text-anchor="middle" fill="#181818" stroke="#181818" stroke-width="0.24">0.5 ft</text>
<text transform="translate(138.65,86.84) rotate(0.05) scale(0.974,1)" font-size="9.7" text-anchor="middle" fill="#181818" stroke="#181818" stroke-width="0.24">1:54 am</text>
<text transform="translate(166.53,424.01) rotate(0.05) scale(0.974,1)" font-size="9.7" text-anchor="middle" fill="#181818" stroke="#181818" stroke-width="0.24">–0.01 m</text>
<text transform="translate(166.53,434.61) rotate(0.05) scale(0.974,1)" font-size="9.7" text-anchor="middle" fill="#181818" stroke="#181818" stroke-width="0.24">–0.0 ft</text>
<text transform="translate(166.53,442.71) rotate(0.05) scale(0.974,1)" font-size="9.7" text-anchor="middle" fill="#181818" stroke="#181818" stroke-width="0.24">10:39 am</text>
<text transform="translate(217.42,105.84) rotate(0.05) scale(0.974,1)" font-size="9.7" text-anchor="middle" fill="#181818" stroke="#181818" stroke-width="0.24">0.16 m</text>
<text transform="translate(217.42,95.84) rotate(0.05) scale(0.974,1)" font-size="9.7" text-anchor="middle" fill="#181818" stroke="#181818" stroke-width="0.24">0.5 ft</text>
<text transform="translate(217.42,86.84) rotate(0.05) scale(0.974,1)" font-size="9.7" text-anchor="middle" fill="#181818" stroke="#181818" stroke-width="0.24">2:37 am</text>
<text transform="translate(245.20,424.01) rotate(0.05) scale(0.974,1)" font-size="9.7" text-anchor="middle" fill="#181818" stroke="#181818" stroke-width="0.24">–0.01 m</text>
<text transform="translate(245.20,434.61) rotate(0.05) scale(0.974,1)" font-size="9.7" text-anchor="middle" fill="#181818" stroke="#181818" stroke-width="0.24">–0.0 ft</text>
<text transform="translate(245.20,442.71) rotate(0.05) scale(0.974,1)" font-size="9.7" text-anchor="middle" fill="#181818" stroke="#181818" stroke-width="0.24">11:20 am</text>
<text transform="translate(296.25,105.84) rotate(0.05) scale(0.974,1)" font-size="9.7" text-anchor="middle" fill="#181818" stroke="#181818" stroke-width="0.24">0.16 m</text>
<text transform="translate(296.25,95.84) rotate(0.05) scale(0.974,1)" font-size="9.7" text-anchor="middle" fill="#181818" stroke="#181818" stroke-width="0.24">0.5 ft</text>
<text transform="translate(296.25,86.84) rotate(0.05) scale(0.974,1)" font-size="9.7" text-anchor="middle" fill="#181818" stroke="#181818" stroke-width="0.24">3:21 am</text>
<text transform="translate(323.76,424.01) rotate(0.05) scale(0.974,1)" font-size="9.7" text-anchor="middle" fill="#181818" stroke="#181818" stroke-width="0.24">–0.01 m</text>
<text transform="translate(323.76,434.61) rotate(0.05) scale(0.974,1)" font-size="9.7" text-anchor="middle" fill="#181818" stroke="#181818" stroke-width="0.24">–0.0 ft</text>
<text transform="translate(323.76,442.71) rotate(0.05) scale(0.974,1)" font-size="9.7" text-anchor="middle" fill="#181818" stroke="#181818" stroke-width="0.24">11:59 am</text>
<text transform="translate(374.76,123.35) rotate(0.05) scale(0.974,1)" font-size="9.7" text-anchor="middle" fill="#181818" stroke="#181818" stroke-width="0.24">0.15 m</text>
<text transform="translate(374.76,113.75) rotate(0.05) scale(0.974,1)" font-size="9.7" text-anchor="middle" fill="#181818" stroke="#181818" stroke-width="0.24">0.5 ft</text>
<text transform="translate(374.76,105.50) rotate(0.05) scale(0.974,1)" font-size="9.7" text-anchor="middle" fill="#181818" stroke="#181818" stroke-width="0.24">3:59 am</text>
<text transform="translate(402.06,406.10) rotate(0.05) scale(0.974,1)" font-size="9.7" text-anchor="middle" fill="#181818" stroke="#181818" stroke-width="0.24">0.00 m</text>
<text transform="translate(402.06,416.70) rotate(0.05) scale(0.974,1)" font-size="9.7" text-anchor="middle" fill="#181818" stroke="#181818" stroke-width="0.24">0.0 ft</text>
<text transform="translate(402.06,425.80) rotate(0.05) scale(0.974,1)" font-size="9.7" text-anchor="middle" fill="#181818" stroke="#181818" stroke-width="0.24">12:33 pm</text>
<text transform="translate(431.64,177.48) rotate(0.05) scale(0.974,1)" font-size="9.7" text-anchor="middle" fill="#181818" stroke="#181818" stroke-width="0.24">0.12 m</text>
<text transform="translate(431.64,167.08) rotate(0.05) scale(0.974,1)" font-size="9.7" text-anchor="middle" fill="#181818" stroke="#181818" stroke-width="0.24">0.4 ft</text>
<text transform="translate(431.64,159.48) rotate(0.05) scale(0.974,1)" font-size="9.7" text-anchor="middle" fill="#181818" stroke="#181818" stroke-width="0.24">9:50 pm</text>
<text transform="translate(433.77,191.18) rotate(0.05) scale(0.974,1)" font-size="9.7" text-anchor="middle" fill="#181818" stroke="#181818" stroke-width="0.24">0.12 m</text>
<text transform="translate(433.77,201.78) rotate(0.05) scale(0.974,1)" font-size="9.7" text-anchor="middle" fill="#181818" stroke="#181818" stroke-width="0.24">0.4 ft</text>
<text transform="translate(433.77,210.28) rotate(0.05) scale(0.974,1)" font-size="9.7" text-anchor="middle" fill="#181818" stroke="#181818" stroke-width="0.24">10:30 pm</text>
<text transform="translate(453.26,141.66) rotate(0.05) scale(0.974,1)" font-size="9.7" text-anchor="middle" fill="#181818" stroke="#181818" stroke-width="0.24">0.14 m</text>
<text transform="translate(453.26,131.16) rotate(0.05) scale(0.974,1)" font-size="9.7" text-anchor="middle" fill="#181818" stroke="#181818" stroke-width="0.24">0.5 ft</text>
<text transform="translate(453.26,122.66) rotate(0.05) scale(0.974,1)" font-size="9.7" text-anchor="middle" fill="#181818" stroke="#181818" stroke-width="0.24">4:37 am</text>
<text transform="translate(480.19,370.28) rotate(0.05) scale(0.974,1)" font-size="9.7" text-anchor="middle" fill="#181818" stroke="#181818" stroke-width="0.24">0.02 m</text>
<text transform="translate(480.19,380.88) rotate(0.05) scale(0.974,1)" font-size="9.7" text-anchor="middle" fill="#181818" stroke="#181818" stroke-width="0.24">0.1 ft</text>
<text transform="translate(480.19,389.98) rotate(0.05) scale(0.974,1)" font-size="9.7" text-anchor="middle" fill="#181818" stroke="#181818" stroke-width="0.24">1:04 pm</text>
<text transform="translate(507.23,177.48) rotate(0.05) scale(0.974,1)" font-size="9.7" text-anchor="middle" fill="#181818" stroke="#181818" stroke-width="0.24">0.12 m</text>
<text transform="translate(507.23,167.48) rotate(0.05) scale(0.974,1)" font-size="9.7" text-anchor="middle" fill="#181818" stroke="#181818" stroke-width="0.24">0.4 ft</text>
<text transform="translate(507.23,159.48) rotate(0.05) scale(0.974,1)" font-size="9.7" text-anchor="middle" fill="#181818" stroke="#181818" stroke-width="0.24">9:33 pm</text>
<text transform="translate(515.94,209.09) rotate(0.05) scale(0.974,1)" font-size="9.7" text-anchor="middle" fill="#181818" stroke="#181818" stroke-width="0.24">0.11 m</text>
<text transform="translate(515.94,219.69) rotate(0.05) scale(0.974,1)" font-size="9.7" text-anchor="middle" fill="#181818" stroke="#181818" stroke-width="0.24">0.4 ft</text>
<text transform="translate(515.94,227.79) rotate(0.05) scale(0.974,1)" font-size="9.7" text-anchor="middle" fill="#181818" stroke="#181818" stroke-width="0.24">12:17 am</text>
<text transform="translate(531.67,159.57) rotate(0.05) scale(0.974,1)" font-size="9.7" text-anchor="middle" fill="#181818" stroke="#181818" stroke-width="0.24">0.13 m</text>
<text transform="translate(531.67,149.57) rotate(0.05) scale(0.974,1)" font-size="9.7" text-anchor="middle" fill="#181818" stroke="#181818" stroke-width="0.24">0.4 ft</text>
<text transform="translate(531.67,140.57) rotate(0.05) scale(0.974,1)" font-size="9.7" text-anchor="middle" fill="#181818" stroke="#181818" stroke-width="0.24">5:13 am</text>
<text transform="translate(558.12,352.37) rotate(0.05) scale(0.974,1)" font-size="9.7" text-anchor="middle" fill="#181818" stroke="#181818" stroke-width="0.24">0.03 m</text>
<text transform="translate(558.12,362.97) rotate(0.05) scale(0.974,1)" font-size="9.7" text-anchor="middle" fill="#181818" stroke="#181818" stroke-width="0.24">0.1 ft</text>
<text transform="translate(558.12,372.07) rotate(0.05) scale(0.974,1)" font-size="9.7" text-anchor="middle" fill="#181818" stroke="#181818" stroke-width="0.24">1:31 pm</text>
<text transform="translate(583.77,177.48) rotate(0.05) scale(0.974,1)" font-size="9.7" text-anchor="middle" fill="#181818" stroke="#181818" stroke-width="0.24">0.12 m</text>
<text transform="translate(583.77,167.48) rotate(0.05) scale(0.974,1)" font-size="9.7" text-anchor="middle" fill="#181818" stroke="#181818" stroke-width="0.24">0.4 ft</text>
<text transform="translate(583.77,159.48) rotate(0.05) scale(0.974,1)" font-size="9.7" text-anchor="middle" fill="#181818" stroke="#181818" stroke-width="0.24">9:34 pm</text>
<text transform="translate(597.85,227.00) rotate(0.05) scale(0.974,1)" font-size="9.7" text-anchor="middle" fill="#181818" stroke="#181818" stroke-width="0.24">0.10 m</text>
<text transform="translate(597.85,237.60) rotate(0.05) scale(0.974,1)" font-size="9.7" text-anchor="middle" fill="#181818" stroke="#181818" stroke-width="0.24">0.3 ft</text>
<text transform="translate(597.85,245.70) rotate(0.05) scale(0.974,1)" font-size="9.7" text-anchor="middle" fill="#181818" stroke="#181818" stroke-width="0.24">1:59 am</text>
<text transform="translate(610.28,195.39) rotate(0.05) scale(0.974,1)" font-size="9.7" text-anchor="middle" fill="#181818" stroke="#181818" stroke-width="0.24">0.11 m</text>
<text transform="translate(610.28,185.39) rotate(0.05) scale(0.974,1)" font-size="9.7" text-anchor="middle" fill="#181818" stroke="#181818" stroke-width="0.24">0.4 ft</text>
<text transform="translate(610.28,176.39) rotate(0.05) scale(0.974,1)" font-size="9.7" text-anchor="middle" fill="#181818" stroke="#181818" stroke-width="0.24">5:53 am</text>
<text transform="translate(635.30,316.55) rotate(0.05) scale(0.974,1)" font-size="9.7" text-anchor="middle" fill="#181818" stroke="#181818" stroke-width="0.24">0.05 m</text>
<text transform="translate(635.30,327.15) rotate(0.05) scale(0.974,1)" font-size="9.7" text-anchor="middle" fill="#181818" stroke="#181818" stroke-width="0.24">0.2 ft</text>
<text transform="translate(635.30,336.25) rotate(0.05) scale(0.974,1)" font-size="9.7" text-anchor="middle" fill="#181818" stroke="#181818" stroke-width="0.24">1:44 pm</text>
<text transform="translate(660.53,177.48) rotate(0.05) scale(0.974,1)" font-size="9.7" text-anchor="middle" fill="#181818" stroke="#181818" stroke-width="0.24">0.12 m</text>
<text transform="translate(660.53,167.48) rotate(0.05) scale(0.974,1)" font-size="9.7" text-anchor="middle" fill="#181818" stroke="#181818" stroke-width="0.24">0.4 ft</text>
<text transform="translate(660.53,159.48) rotate(0.05) scale(0.974,1)" font-size="9.7" text-anchor="middle" fill="#181818" stroke="#181818" stroke-width="0.24">9:39 pm</text>
<text transform="translate(681.57,244.91) rotate(0.05) scale(0.974,1)" font-size="9.7" text-anchor="middle" fill="#181818" stroke="#181818" stroke-width="0.24">0.09 m</text>
<text transform="translate(681.57,254.61) rotate(0.05) scale(0.974,1)" font-size="9.7" text-anchor="middle" fill="#181818" stroke="#181818" stroke-width="0.24">0.3 ft</text>
<text transform="translate(681.57,264.41) rotate(0.05) scale(0.974,1)" font-size="9.7" text-anchor="middle" fill="#181818" stroke="#181818" stroke-width="0.24">4:15 am</text>
<text transform="translate(688.95,231.21) rotate(0.05) scale(0.974,1)" font-size="9.7" text-anchor="middle" fill="#181818" stroke="#181818" stroke-width="0.24">0.09 m</text>
<text transform="translate(688.95,221.21) rotate(0.05) scale(0.974,1)" font-size="9.7" text-anchor="middle" fill="#181818" stroke="#181818" stroke-width="0.24">0.3 ft</text>
<text transform="translate(688.95,212.21) rotate(0.05) scale(0.974,1)" font-size="9.7" text-anchor="middle" fill="#181818" stroke="#181818" stroke-width="0.24">6:34 am</text>
</g>
<path d="M391.60 393.3L400.80 393.3L396.20 400.2Z" fill="#c8c832" stroke="#7a5a14" stroke-width="0.6" stroke-linejoin="round"/>
<circle cx="138.85" cy="109.14" r="1.9" fill="#000"/>
<circle cx="166.73" cy="413.61" r="1.9" fill="#000"/>
<circle cx="217.62" cy="109.14" r="1.9" fill="#000"/>
<circle cx="245.40" cy="413.61" r="1.9" fill="#000"/>
<circle cx="296.45" cy="109.14" r="1.9" fill="#000"/>
<circle cx="323.96" cy="413.61" r="1.9" fill="#000"/>
<circle cx="374.96" cy="127.05" r="1.9" fill="#000"/>
<circle cx="402.26" cy="395.70" r="1.9" fill="#000"/>
<circle cx="431.84" cy="180.78" r="1.9" fill="#000"/>
<circle cx="433.97" cy="180.78" r="1.9" fill="#000"/>
<circle cx="453.46" cy="144.96" r="1.9" fill="#000"/>
<circle cx="480.39" cy="359.88" r="1.9" fill="#000"/>
<circle cx="507.43" cy="180.78" r="1.9" fill="#000"/>
<circle cx="516.14" cy="198.69" r="1.9" fill="#000"/>
<circle cx="531.87" cy="162.87" r="1.9" fill="#000"/>
<circle cx="558.32" cy="341.97" r="1.9" fill="#000"/>
<circle cx="583.97" cy="180.78" r="1.9" fill="#000"/>
<circle cx="598.05" cy="216.60" r="1.9" fill="#000"/>
<circle cx="610.48" cy="198.69" r="1.9" fill="#000"/>
<circle cx="635.50" cy="306.15" r="1.9" fill="#000"/>
<circle cx="660.73" cy="180.78" r="1.9" fill="#000"/>
<circle cx="681.77" cy="234.51" r="1.9" fill="#000"/>
<circle cx="689.15" cy="234.51" r="1.9" fill="#000"/>
<path d="M49.35 57.45V465.6" stroke="#050505" stroke-width="1.7" fill="none"/>
<path d="M743.1 68V465.6" stroke="#050505" stroke-width="1.7" fill="none"/>
<path d="M42.3 395.9H49M45.7 216.6H49" stroke="#333" stroke-width="0.9" fill="none"/>
<path d="M743.5 408.8H750M743.5 294.8H746.8M743.5 181.9H746.8M743.5 68.4H746.8" stroke="#444" stroke-width="0.8" fill="none"/>
<text transform="translate(35.40,400.60) rotate(0.05) scale(0.96,1)" font-size="12.3" text-anchor="end" fill="#181818" stroke="#181818" stroke-width="0.15">0.0 m</text>
<text transform="translate(757.20,413.40) rotate(0.05) scale(0.96,1)" font-size="12.3" fill="#181818" stroke="#181818" stroke-width="0.15">0 ft</text>
<text transform="translate(45.50,480.00) rotate(0.05) scale(0.95,1)" font-size="11.4" text-anchor="end" fill="#181818" stroke="#181818" stroke-width="0.15">Sunrise</text>
<text transform="translate(746.50,480.00) rotate(0.05) scale(0.95,1)" font-size="11.4" fill="#181818" stroke="#181818" stroke-width="0.15">Sunrise</text>
<text transform="translate(45.50,493.60) rotate(0.05) scale(0.95,1)" font-size="11.4" text-anchor="end" fill="#181818" stroke="#181818" stroke-width="0.15">Sunset</text>
<text transform="translate(746.50,493.60) rotate(0.05) scale(0.95,1)" font-size="11.4" fill="#181818" stroke="#181818" stroke-width="0.15">Sunset</text>
<text transform="translate(45.50,507.10) rotate(0.05) scale(0.95,1)" font-size="11.4" text-anchor="end" fill="#181818" stroke="#181818" stroke-width="0.15">Moonrise</text>
<text transform="translate(746.50,507.10) rotate(0.05) scale(0.95,1)" font-size="11.4" fill="#181818" stroke="#181818" stroke-width="0.15">Moonrise</text>
<text transform="translate(45.50,520.60) rotate(0.05) scale(0.95,1)" font-size="11.4" text-anchor="end" fill="#181818" stroke="#181818" stroke-width="0.15">Moonset</text>
<text transform="translate(746.50,520.60) rotate(0.05) scale(0.95,1)" font-size="11.4" fill="#181818" stroke="#181818" stroke-width="0.15">Moonset</text>
<polygon points="78.40,468.80 79.98,473.82 85.24,473.78 80.96,476.83 82.63,481.82 78.40,478.70 74.17,481.82 75.83,476.83 71.55,473.78 76.81,473.82" fill="#6a5010" stroke="#6a5010" stroke-width="0.3" stroke-linejoin="miter"/><polygon points="78.40,471.15 83.01,474.50 81.25,479.92 75.55,479.92 73.78,474.50" fill="#c8c832" stroke="#6a5010" stroke-width="1.0" stroke-linejoin="round"/>
<text transform="translate(85.20,479.70) rotate(0.05) scale(0.975,1)" font-size="9.8" fill="#181818" stroke="#181818" stroke-width="0.24">6:56am</text>
<polygon points="154.94,468.80 156.53,473.82 161.79,473.78 157.51,476.83 159.17,481.82 154.94,478.70 150.71,481.82 152.37,476.83 148.09,473.78 153.35,473.82" fill="#6a5010" stroke="#6a5010" stroke-width="0.3" stroke-linejoin="miter"/><polygon points="154.94,471.15 159.55,474.50 157.79,479.92 152.09,479.92 150.33,474.50" fill="#c8c832" stroke="#6a5010" stroke-width="1.0" stroke-linejoin="round"/>
<text transform="translate(161.74,479.70) rotate(0.05) scale(0.975,1)" font-size="9.8" fill="#181818" stroke="#181818" stroke-width="0.24">6:57am</text>
<polygon points="231.48,468.80 233.07,473.82 238.33,473.78 234.05,476.83 235.72,481.82 231.48,478.70 227.25,481.82 228.92,476.83 224.64,473.78 229.90,473.82" fill="#6a5010" stroke="#6a5010" stroke-width="0.3" stroke-linejoin="miter"/><polygon points="231.48,471.15 236.10,474.50 234.33,479.92 228.63,479.92 226.87,474.50" fill="#c8c832" stroke="#6a5010" stroke-width="1.0" stroke-linejoin="round"/>
<text transform="translate(238.28,479.70) rotate(0.05) scale(0.975,1)" font-size="9.8" fill="#181818" stroke="#181818" stroke-width="0.24">6:58am</text>
<polygon points="308.03,468.80 309.61,473.82 314.87,473.78 310.59,476.83 312.26,481.82 308.03,478.70 303.79,481.82 305.46,476.83 301.18,473.78 306.44,473.82" fill="#6a5010" stroke="#6a5010" stroke-width="0.3" stroke-linejoin="miter"/><polygon points="308.03,471.15 312.64,474.50 310.88,479.92 305.18,479.92 303.41,474.50" fill="#c8c832" stroke="#6a5010" stroke-width="1.0" stroke-linejoin="round"/>
<text transform="translate(314.83,479.70) rotate(0.05) scale(0.975,1)" font-size="9.8" fill="#181818" stroke="#181818" stroke-width="0.24">6:59am</text>
<polygon points="384.57,468.80 386.16,473.82 391.42,473.78 387.14,476.83 388.80,481.82 384.57,478.70 380.34,481.82 382.00,476.83 377.72,473.78 382.98,473.82" fill="#6a5010" stroke="#6a5010" stroke-width="0.3" stroke-linejoin="miter"/><polygon points="384.57,471.15 389.18,474.50 387.42,479.92 381.72,479.92 379.96,474.50" fill="#c8c832" stroke="#6a5010" stroke-width="1.0" stroke-linejoin="round"/>
<text transform="translate(391.37,479.70) rotate(0.05) scale(0.975,1)" font-size="9.8" fill="#181818" stroke="#181818" stroke-width="0.24">7:00am</text>
<polygon points="461.06,468.80 462.65,473.82 467.91,473.78 463.63,476.83 465.29,481.82 461.06,478.70 456.83,481.82 458.49,476.83 454.21,473.78 459.47,473.82" fill="#6a5010" stroke="#6a5010" stroke-width="0.3" stroke-linejoin="miter"/><polygon points="461.06,471.15 465.67,474.50 463.91,479.92 458.21,479.92 456.45,474.50" fill="#c8c832" stroke="#6a5010" stroke-width="1.0" stroke-linejoin="round"/>
<text transform="translate(467.86,479.70) rotate(0.05) scale(0.975,1)" font-size="9.8" fill="#181818" stroke="#181818" stroke-width="0.24">7:00am</text>
<polygon points="537.60,468.80 539.19,473.82 544.45,473.78 540.17,476.83 541.83,481.82 537.60,478.70 533.37,481.82 535.03,476.83 530.76,473.78 536.02,473.82" fill="#6a5010" stroke="#6a5010" stroke-width="0.3" stroke-linejoin="miter"/><polygon points="537.60,471.15 542.22,474.50 540.45,479.92 534.75,479.92 532.99,474.50" fill="#c8c832" stroke="#6a5010" stroke-width="1.0" stroke-linejoin="round"/>
<text transform="translate(544.40,479.70) rotate(0.05) scale(0.975,1)" font-size="9.8" fill="#181818" stroke="#181818" stroke-width="0.24">7:01am</text>
<polygon points="614.15,468.80 615.73,473.82 620.99,473.78 616.71,476.83 618.38,481.82 614.15,478.70 609.91,481.82 611.58,476.83 607.30,473.78 612.56,473.82" fill="#6a5010" stroke="#6a5010" stroke-width="0.3" stroke-linejoin="miter"/><polygon points="614.15,471.15 618.76,474.50 617.00,479.92 611.30,479.92 609.53,474.50" fill="#c8c832" stroke="#6a5010" stroke-width="1.0" stroke-linejoin="round"/>
<text transform="translate(620.95,479.70) rotate(0.05) scale(0.975,1)" font-size="9.8" fill="#181818" stroke="#181818" stroke-width="0.24">7:02am</text>
<polygon points="124.24,482.40 125.83,487.42 131.09,487.38 126.81,490.43 128.47,495.42 124.24,492.30 120.01,495.42 121.67,490.43 117.39,487.38 122.65,487.42" fill="#6a4a10" stroke="#6a4a10" stroke-width="0.3" stroke-linejoin="miter"/><polygon points="124.24,484.75 128.85,488.10 127.09,493.52 121.39,493.52 119.63,488.10" fill="#c47630" stroke="#6a4a10" stroke-width="1.0" stroke-linejoin="round"/>
<text transform="translate(130.54,493.70) rotate(0.05) scale(0.975,1)" font-size="9.8" fill="#181818" stroke="#181818" stroke-width="0.24">9:19pm</text>
<polygon points="200.67,482.40 202.26,487.42 207.52,487.38 203.24,490.43 204.91,495.42 200.67,492.30 196.44,495.42 198.11,490.43 193.83,487.38 199.09,487.42" fill="#6a4a10" stroke="#6a4a10" stroke-width="0.3" stroke-linejoin="miter"/><polygon points="200.67,484.75 205.29,488.10 203.53,493.52 197.82,493.52 196.06,488.10" fill="#c47630" stroke="#6a4a10" stroke-width="1.0" stroke-linejoin="round"/>
<text transform="translate(206.97,493.70) rotate(0.05) scale(0.975,1)" font-size="9.8" fill="#181818" stroke="#181818" stroke-width="0.24">9:18pm</text>
<polygon points="277.11,482.40 278.70,487.42 283.96,487.38 279.68,490.43 281.34,495.42 277.11,492.30 272.88,495.42 274.54,490.43 270.26,487.38 275.52,487.42" fill="#6a4a10" stroke="#6a4a10" stroke-width="0.3" stroke-linejoin="miter"/><polygon points="277.11,484.75 281.72,488.10 279.96,493.52 274.26,493.52 272.50,488.10" fill="#c47630" stroke="#6a4a10" stroke-width="1.0" stroke-linejoin="round"/>
<text transform="translate(283.41,493.70) rotate(0.05) scale(0.975,1)" font-size="9.8" fill="#181818" stroke="#181818" stroke-width="0.24">9:17pm</text>
<polygon points="353.60,482.40 355.19,487.42 360.45,487.38 356.17,490.43 357.83,495.42 353.60,492.30 349.37,495.42 351.03,490.43 346.75,487.38 352.01,487.42" fill="#6a4a10" stroke="#6a4a10" stroke-width="0.3" stroke-linejoin="miter"/><polygon points="353.60,484.75 358.21,488.10 356.45,493.52 350.75,493.52 348.99,488.10" fill="#c47630" stroke="#6a4a10" stroke-width="1.0" stroke-linejoin="round"/>
<text transform="translate(359.90,493.70) rotate(0.05) scale(0.975,1)" font-size="9.8" fill="#181818" stroke="#181818" stroke-width="0.24">9:17pm</text>
<polygon points="430.04,482.40 431.63,487.42 436.89,487.38 432.61,490.43 434.27,495.42 430.04,492.30 425.81,495.42 427.47,490.43 423.19,487.38 428.45,487.42" fill="#6a4a10" stroke="#6a4a10" stroke-width="0.3" stroke-linejoin="miter"/><polygon points="430.04,484.75 434.65,488.10 432.89,493.52 427.19,493.52 425.43,488.10" fill="#c47630" stroke="#6a4a10" stroke-width="1.0" stroke-linejoin="round"/>
<text transform="translate(436.34,493.70) rotate(0.05) scale(0.975,1)" font-size="9.8" fill="#181818" stroke="#181818" stroke-width="0.24">9:16pm</text>
<polygon points="506.48,482.40 508.06,487.42 513.32,487.38 509.04,490.43 510.71,495.42 506.48,492.30 502.24,495.42 503.91,490.43 499.63,487.38 504.89,487.42" fill="#6a4a10" stroke="#6a4a10" stroke-width="0.3" stroke-linejoin="miter"/><polygon points="506.48,484.75 511.09,488.10 509.33,493.52 503.62,493.52 501.86,488.10" fill="#c47630" stroke="#6a4a10" stroke-width="1.0" stroke-linejoin="round"/>
<text transform="translate(512.78,493.70) rotate(0.05) scale(0.975,1)" font-size="9.8" fill="#181818" stroke="#181818" stroke-width="0.24">9:15pm</text>
<polygon points="582.91,482.40 584.50,487.42 589.76,487.38 585.48,490.43 587.14,495.42 582.91,492.30 578.68,495.42 580.34,490.43 576.06,487.38 581.33,487.42" fill="#6a4a10" stroke="#6a4a10" stroke-width="0.3" stroke-linejoin="miter"/><polygon points="582.91,484.75 587.53,488.10 585.76,493.52 580.06,493.52 578.30,488.10" fill="#c47630" stroke="#6a4a10" stroke-width="1.0" stroke-linejoin="round"/>
<text transform="translate(589.21,493.70) rotate(0.05) scale(0.975,1)" font-size="9.8" fill="#181818" stroke="#181818" stroke-width="0.24">9:14pm</text>
<polygon points="659.35,482.40 660.94,487.42 666.20,487.38 661.92,490.43 663.58,495.42 659.35,492.30 655.12,495.42 656.78,490.43 652.50,487.38 657.76,487.42" fill="#6a4a10" stroke="#6a4a10" stroke-width="0.3" stroke-linejoin="miter"/><polygon points="659.35,484.75 663.96,488.10 662.20,493.52 656.50,493.52 654.74,488.10" fill="#c47630" stroke="#6a4a10" stroke-width="1.0" stroke-linejoin="round"/>
<text transform="translate(665.65,493.70) rotate(0.05) scale(0.975,1)" font-size="9.8" fill="#181818" stroke="#181818" stroke-width="0.24">9:13pm</text>
<circle cx="124.18" cy="503.1" r="5.1" fill="#ffffc8" stroke="#606060" stroke-width="1.1"/>
<text transform="translate(130.88,507.40) rotate(0.05) scale(0.975,1)" font-size="9.8" fill="#181818" stroke="#181818" stroke-width="0.24">9:18pm</text>
<circle cx="203.22" cy="503.1" r="5.1" fill="#ffffc8" stroke="#606060" stroke-width="1.1"/>
<text transform="translate(209.92,507.40) rotate(0.05) scale(0.975,1)" font-size="9.8" fill="#181818" stroke="#181818" stroke-width="0.24">10:06pm</text>
<circle cx="281.79" cy="503.1" r="5.1" fill="#ffffc8" stroke="#606060" stroke-width="1.1"/>
<text transform="translate(288.49,507.40) rotate(0.05) scale(0.975,1)" font-size="9.8" fill="#181818" stroke="#181818" stroke-width="0.24">10:45pm</text>
<circle cx="359.98" cy="503.1" r="5.1" fill="#ffffc8" stroke="#606060" stroke-width="1.1"/>
<text transform="translate(366.68,507.40) rotate(0.05) scale(0.975,1)" font-size="9.8" fill="#181818" stroke="#181818" stroke-width="0.24">11:17pm</text>
<circle cx="437.95" cy="503.1" r="5.1" fill="#ffffc8" stroke="#606060" stroke-width="1.1"/>
<text transform="translate(444.65,507.40) rotate(0.05) scale(0.975,1)" font-size="9.8" fill="#181818" stroke="#181818" stroke-width="0.24">11:45pm</text>
<circle cx="515.77" cy="503.1" r="5.1" fill="#ffffc8" stroke="#606060" stroke-width="1.1"/>
<text transform="translate(522.47,506.70) rotate(0.05) scale(0.975,1)" font-size="9.8" fill="#181818" stroke="#181818" stroke-width="0.24">12:10am</text>
<circle cx="593.59" cy="503.1" r="5.1" fill="#ffffc8" stroke="#606060" stroke-width="1.1"/>
<text transform="translate(600.29,506.70) rotate(0.05) scale(0.975,1)" font-size="9.8" fill="#181818" stroke="#181818" stroke-width="0.24">12:35am</text>
<circle cx="671.35" cy="503.1" r="5.1" fill="#ffffc8" stroke="#606060" stroke-width="1.1"/>
<text transform="translate(678.05,506.70) rotate(0.05) scale(0.975,1)" font-size="9.8" fill="#181818" stroke="#181818" stroke-width="0.24">12:59am</text>
<circle cx="154.94" cy="516.5" r="5.1" fill="#c6c5be" stroke="#5c5c5c" stroke-width="1.1"/>
<text transform="translate(161.64,520.00) rotate(0.05) scale(0.975,1)" font-size="9.8" fill="#181818" stroke="#181818" stroke-width="0.24">6:57am</text>
<circle cx="235.20" cy="516.5" r="5.1" fill="#c6c5be" stroke="#5c5c5c" stroke-width="1.1"/>
<text transform="translate(241.90,520.00) rotate(0.05) scale(0.975,1)" font-size="9.8" fill="#181818" stroke="#181818" stroke-width="0.24">8:08am</text>
<circle cx="315.41" cy="516.5" r="5.1" fill="#c6c5be" stroke="#5c5c5c" stroke-width="1.1"/>
<text transform="translate(322.11,520.00) rotate(0.05) scale(0.975,1)" font-size="9.8" fill="#181818" stroke="#181818" stroke-width="0.24">9:18am</text>
<circle cx="395.46" cy="516.5" r="5.1" fill="#c6c5be" stroke="#5c5c5c" stroke-width="1.1"/>
<text transform="translate(402.16,520.00) rotate(0.05) scale(0.975,1)" font-size="9.8" fill="#181818" stroke="#181818" stroke-width="0.24">10:25am</text>
<circle cx="475.35" cy="516.5" r="5.1" fill="#c6c5be" stroke="#5c5c5c" stroke-width="1.1"/>
<text transform="translate(482.05,520.00) rotate(0.05) scale(0.975,1)" font-size="9.8" fill="#181818" stroke="#181818" stroke-width="0.24">11:29am</text>
<circle cx="555.08" cy="516.5" r="5.1" fill="#c6c5be" stroke="#5c5c5c" stroke-width="1.1"/>
<text transform="translate(561.78,520.60) rotate(0.05) scale(0.975,1)" font-size="9.8" fill="#181818" stroke="#181818" stroke-width="0.24">12:30pm</text>
<circle cx="634.70" cy="516.5" r="5.1" fill="#c6c5be" stroke="#5c5c5c" stroke-width="1.1"/>
<text transform="translate(641.40,520.60) rotate(0.05) scale(0.975,1)" font-size="9.8" fill="#181818" stroke="#181818" stroke-width="0.24">1:29pm</text>
<text transform="translate(102.60,533.30) rotate(0.05) scale(0.96,1)" font-size="9.7" fill="#181818" stroke="#181818" stroke-width="0.24">Full Moon | 4:36am</text>
</svg></body></html>
